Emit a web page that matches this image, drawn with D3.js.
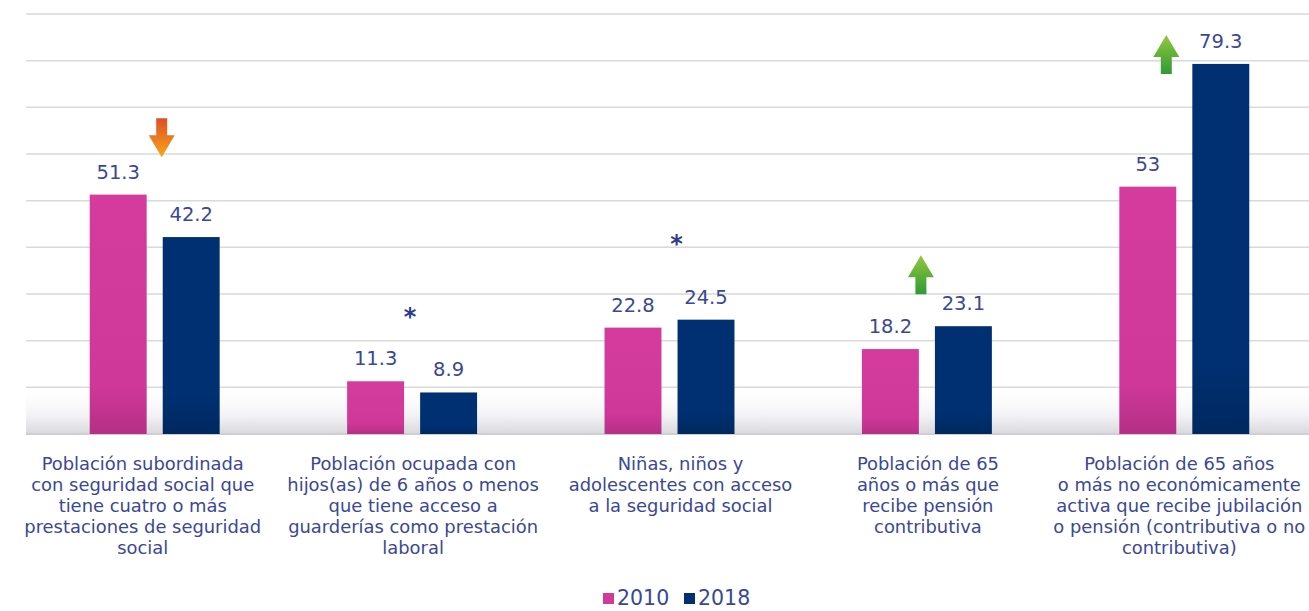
<!DOCTYPE html>
<html>
<head>
<meta charset="utf-8">
<script src="https://cdn.jsdelivr.net/npm/d3@7"></script>
<style>
  body { margin: 0; background: #fff; }
  text { font-family: "DejaVu Sans", "Open Sans", sans-serif; }
</style>
</head>
<body>
<div id="chart"></div>
<script>
// category labels (already broken into lines as in the original)
const categories = [
    ["Población subordinada", "con seguridad social que", "tiene cuatro o más", "prestaciones de seguridad", "social"],
    ["Población ocupada con", "hijos(as) de 6 años o menos", "que tiene acceso a", "guarderías como prestación", "laboral"],
    ["Niñas, niños y", "adolescentes con acceso", "a la seguridad social"],
    ["Población de 65", "años o más que", "recibe pensión", "contributiva"],
    ["Población de 65 años", "o más no económicamente", "activa que recibe jubilación", "o pensión (contributiva o no", "contributiva)"]
];
const years = ["2010", "2018"];
const values2010 = [51.3, 11.3, 22.8, 18.2, 53];
const values2018 = [42.2, 8.9, 24.5, 23.1, 79.3];
// change markers per category and the level (in %) where they sit
const markers = ["down", "star", "star", "up", "up"];
const markerLevels = [63.5, 25.9, 41.6, 34.1, 81.3];

const colors = { "2010": "#d1399b", "2018": "#003072" };
const textColor = "#3b4796";

let width = 1309, height = 611;
let svg = d3.select("#chart").append("svg")
    .attr("width", width)
    .attr("height", height);

let defs = svg.append("defs");
function vGrad(id, stops) {
    let g = defs.append("linearGradient").attr("id", id)
        .attr("x1", 0).attr("y1", 0).attr("x2", 0).attr("y2", 1);
    stops.forEach(s => g.append("stop").attr("offset", s[0]).attr("stop-color", s[1]).attr("stop-opacity", s[2] == null ? 1 : s[2]));
}
vGrad("floor", [[0, "#ffffff", 0], [0.65, "#f2f2f5", 1], [1, "#d9d9dd", 1]]);
vGrad("orange", [[0, "#dd4f26"], [1, "#f9a51a"]]);
vGrad("green", [[0, "#93c83e"], [1, "#2f9a33"]]);
vGrad("pink", [[0, "#d43b9d"], [0.8, "#cf3899"], [1, "#b52f86"]]);
vGrad("navy", [[0, "#003072"], [0.8, "#003072"], [1, "#00285f"]]);

let x0 = d3.scaleBand()
    .domain(d3.range(categories.length))
    .range([26, 1313]);

let x1 = d3.scaleBand()
    .domain(years)
    .range([0, x0.bandwidth()])
    .paddingInner(0.22)
    .paddingOuter(0.873);

let y = d3.scaleLinear()
    .domain([0, 90])
    .range([434, 14]);

// floor shading near the base
svg.append("rect")
    .attr("x", 26).attr("y", y(11))
    .attr("width", width - 26).attr("height", y(0) - y(11))
    .attr("fill", "url(#floor)");

// gridlines
svg.append("g")
    .selectAll("line")
    .data(y.ticks(9))
    .enter()
    .append("line")
    .attr("x1", 26).attr("x2", width)
    .attr("y1", d => y(d)).attr("y2", d => y(d))
    .attr("stroke", d => d === 0 ? "#cfcfd3" : "#d9d9d9")
    .attr("stroke-width", d => d === 0 ? 2 : 1.5);

let rows = categories.map((c, i) => ({ i, vals: [values2010[i], values2018[i]] }));

let groups = svg.selectAll(".grp")
    .data(rows)
    .enter()
    .append("g")
    .attr("class", "grp")
    .attr("transform", d => `translate(${x0(d.i)},0)`);

groups.selectAll("rect")
    .data(d => years.map((yr, k) => ({ yr, v: d.vals[k] })))
    .enter()
    .append("rect")
    .attr("x", d => x1(d.yr))
    .attr("y", d => y(d.v))
    .attr("width", x1.bandwidth())
    .attr("height", d => y(0) - y(d.v))
    .attr("fill", d => d.yr === "2010" ? "url(#pink)" : "url(#navy)");

groups.selectAll(".val")
    .data(d => years.map((yr, k) => ({ yr, v: d.vals[k] })))
    .enter()
    .append("text")
    .attr("class", "val")
    .attr("x", d => x1(d.yr) + x1.bandwidth() / 2)
    .attr("y", d => y(d.v) - 16)
    .attr("text-anchor", "middle")
    .attr("font-size", 19.5)
    .attr("fill", textColor)
    .text(d => d.v);

// category labels (text boxes sit slightly off the group centres)
const labelDx = [-12, 1, 11, 1, -5];
groups.append("text")
    .attr("text-anchor", "middle")
    .attr("font-size", 17.9)
    .attr("fill", textColor)
    .attr("transform", d => `translate(${x0.bandwidth() / 2 + labelDx[d.i]},470)`)
    .selectAll("tspan")
    .data(d => categories[d.i])
    .enter()
    .append("tspan")
    .attr("x", 0)
    .attr("dy", (d, k) => k === 0 ? 0 : 21)
    .text(d => d);

// markers: arrows and asterisks
const markerDx = [7, -2, 7, -6, -18];
function arrowPath(up) {
    // shaft 11 wide, head 26 wide, total 39 tall, centred on 0,0
    let p = up
        ? [[0, -19.5], [13, 2.5], [5.5, 2.5], [5.5, 19.5], [-5.5, 19.5], [-5.5, 2.5], [-13, 2.5]]
        : [[0, 19.5], [13, -2.5], [5.5, -2.5], [5.5, -19.5], [-5.5, -19.5], [-5.5, -2.5], [-13, -2.5]];
    return d3.line()(p) + "Z";
}
markers.forEach((m, i) => {
    let cx = x0(i) + x0.bandwidth() / 2 + markerDx[i];
    let cy = y(markerLevels[i]);
    if (m === "star") {
        svg.append("text")
            .attr("x", cx).attr("y", cy + 12)
            .attr("text-anchor", "middle")
            .attr("font-size", 24)
            .attr("font-weight", "bold")
            .attr("fill", "#2e3b8f")
            .text("*");
    } else {
        svg.append("path")
            .attr("d", arrowPath(m === "up"))
            .attr("transform", `translate(${cx},${cy})`)
            .attr("fill", m === "up" ? "url(#green)" : "url(#orange)");
    }
});

// legend
let legend = svg.append("g").attr("transform", "translate(603,605)");
let lx = 0;
years.forEach(yr => {
    legend.append("rect")
        .attr("x", lx).attr("y", -12)
        .attr("width", 11).attr("height", 11)
        .attr("fill", colors[yr]);
    legend.append("text")
        .attr("x", lx + 14).attr("y", 0)
        .attr("font-size", 20.5)
        .attr("fill", textColor)
        .text(yr);
    lx += 81;
});
</script>
</body>
</html>
